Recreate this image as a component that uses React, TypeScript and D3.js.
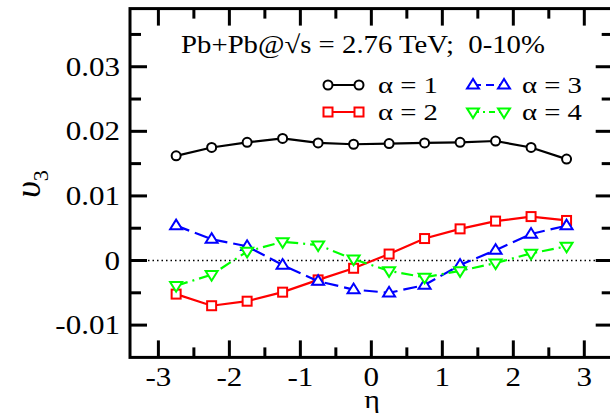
import React from "react";
import * as d3 from "d3";

const eta = [-2.75, -2.25, -1.75, -1.25, -0.75, -0.25, 0.25, 0.75, 1.25, 1.75, 2.25, 2.75];
const alpha1 = [0.0162, 0.0175, 0.0183, 0.0189, 0.0182, 0.0180, 0.0181, 0.0182, 0.0183, 0.0185, 0.0175, 0.0157];
const alpha2 = [-0.0052, -0.0070, -0.0063, -0.0049, -0.0030, -0.0012, 0.0010, 0.0034, 0.0049, 0.0061, 0.0068, 0.0062];
const alpha3 = [0.0054, 0.0033, 0.0022, -0.0007, -0.0032, -0.0045, -0.0050, -0.0038, -0.0007, 0.0016, 0.0041, 0.0054];
const alpha4 = [-0.0039, -0.0022, 0.0014, 0.0029, 0.0024, 0.0002, -0.0016, -0.0026, -0.0016, -0.0004, 0.0011, 0.0022];
const xTicks = [-3, -2, -1, 0, 1, 2, 3];
const yTicks = [-0.01, 0, 0.01, 0.02, 0.03];
const yTickLabels = ["-0.01", "0", "0.01", "0.02", "0.03"];
const legendLabels = ["α = 1", "α = 2", "α = 3", "α = 4"];
const title = "Pb+Pb@√s = 2.76 TeV;  0-10%";

const X0 = 130, X1 = 612.7, Y0 = 8.6, Y1 = 357.4;
const x = d3.scaleLinear().domain([-3.4, 3.4]).range([X0, X1]);
const y = d3.scaleLinear().domain([-0.015, 0.039]).range([Y1, Y0]);

type Marker = "circle" | "square" | "up" | "down";
const series = [
  { vals: alpha1, color: "#000000", dash: "", marker: "circle" as Marker },
  { vals: alpha2, color: "#ff0000", dash: "", marker: "square" as Marker },
  { vals: alpha3, color: "#0000ff", dash: "14,6", marker: "up" as Marker },
  { vals: alpha4, color: "#00ff00", dash: "12,5,2,5", marker: "down" as Marker },
];

function MarkerShape({ cx, cy, m, color }: { cx: number; cy: number; m: Marker; color: string }) {
  const sw = 2;
  if (m === "circle") return <circle cx={cx} cy={cy} r={4.5} fill="white" stroke={color} strokeWidth={sw} />;
  if (m === "square") return <rect x={cx - 4.5} y={cy - 4.5} width={9} height={9} fill="white" stroke={color} strokeWidth={sw} />;
  const s = 6;
  if (m === "up") {
    const p = `${cx},${cy - s} ${cx - s},${cy + s * 0.6} ${cx + s},${cy + s * 0.6}`;
    return <polygon points={p} fill="white" stroke={color} strokeWidth={sw} />;
  }
  const p = `${cx},${cy + s} ${cx - s},${cy - s * 0.6} ${cx + s},${cy - s * 0.6}`;
  return <polygon points={p} fill="white" stroke={color} strokeWidth={sw} />;
}

export default function App() {
  const line = d3.line<[number, number]>().x((d) => x(d[0])).y((d) => y(d[1]));
  const minorX = d3.range(-3.5, 3.6, 1).filter((v) => v > -3.4 && v < 3.4);
  const minorY = [-0.005, 0.005, 0.015, 0.025, 0.035];
  const font = "'Liberation Serif', 'Times New Roman', serif";
  const legendPos = [
    { lx: 328, ly: 85, tx: 378 },
    { lx: 328, ly: 112, tx: 378 },
    { lx: 473, ly: 85, tx: 522 },
    { lx: 473, ly: 112, tx: 522 },
  ];
  return (
    <svg width={610} height={416} style={{ position: "absolute", left: 0, top: 0, background: "white" }}>
      <rect width={610} height={416} fill="white" />
      <line x1={X0} x2={X1} y1={y(0)} y2={y(0)} stroke="#000" strokeWidth={1.5} strokeDasharray="1.5,3" />
      {series.map((s, i) => (
        <g key={i}>
          <path d={line(eta.map((e, j) => [e, s.vals[j]]) as [number, number][]) || ""} fill="none" stroke={s.color} strokeWidth={2.2} strokeDasharray={s.dash || undefined} />
          {eta.map((e, j) => (
            <MarkerShape key={j} cx={x(e)} cy={y(s.vals[j])} m={s.marker} color={s.color} />
          ))}
        </g>
      ))}
      <rect x={X0} y={Y0} width={X1 - X0} height={Y1 - Y0} fill="none" stroke="#000" strokeWidth={3} />
      {xTicks.map((v) => (
        <g key={"mx" + v}>
          <line x1={x(v)} x2={x(v)} y1={Y1} y2={Y1 - 17} stroke="#000" strokeWidth={3} />
          <line x1={x(v)} x2={x(v)} y1={Y0} y2={Y0 + 17} stroke="#000" strokeWidth={3} />
          <text transform={`translate(${x(v)},${Y1 + 29}) scale(1.15,1)`} textAnchor="middle" fontFamily={font} fontSize={27}>{String(v)}</text>
        </g>
      ))}
      {minorX.map((v) => (
        <g key={"nx" + v}>
          <line x1={x(v)} x2={x(v)} y1={Y1} y2={Y1 - 10} stroke="#000" strokeWidth={3} />
          <line x1={x(v)} x2={x(v)} y1={Y0} y2={Y0 + 10} stroke="#000" strokeWidth={3} />
        </g>
      ))}
      {yTicks.map((v, i) => (
        <g key={"my" + v}>
          <line x1={X0} x2={X0 + 17} y1={y(v)} y2={y(v)} stroke="#000" strokeWidth={3} />
          <line x1={X1} x2={X1 - 17} y1={y(v)} y2={y(v)} stroke="#000" strokeWidth={3} />
          <text transform={`translate(${X0 - 10},${y(v) + 9}) scale(1.15,1)`} textAnchor="end" fontFamily={font} fontSize={27}>{yTickLabels[i]}</text>
        </g>
      ))}
      {minorY.map((v) => (
        <g key={"ny" + v}>
          <line x1={X0} x2={X0 + 11} y1={y(v)} y2={y(v)} stroke="#000" strokeWidth={3} />
          <line x1={X1} x2={X1 - 11} y1={y(v)} y2={y(v)} stroke="#000" strokeWidth={3} />
        </g>
      ))}
      <text transform={`translate(372,408) scale(1.15,1)`} textAnchor="middle" fontFamily={font} fontSize={26}>η</text>
      <text transform={`translate(40,184) rotate(-90)`} textAnchor="middle" fontFamily={font} fontSize={36} fontStyle="italic">
        υ<tspan fontSize={22} dy={8} fontStyle="normal">3</tspan>
      </text>
      <text transform={`translate(363,53) scale(1.15,1)`} textAnchor="middle" fontFamily={font} fontSize={25} xmlSpace="preserve">{title}</text>
      {series.map((s, i) => {
        const p = legendPos[i];
        return (
          <g key={"lg" + i}>
            <line x1={p.lx} x2={p.lx + 31} y1={p.ly} y2={p.ly} stroke={s.color} strokeWidth={2} strokeDasharray={s.dash ? (i === 2 ? "8,5" : "6,4,2,4") : undefined} />
            <MarkerShape cx={p.lx} cy={p.ly} m={s.marker} color={s.color} />
            <MarkerShape cx={p.lx + 31} cy={p.ly} m={s.marker} color={s.color} />
            <text transform={`translate(${p.tx},${p.ly + 8}) scale(1.25,1)`} fontFamily={font} fontSize={23} xmlSpace="preserve">{legendLabels[i]}</text>
          </g>
        );
      })}
    </svg>
  );
}
